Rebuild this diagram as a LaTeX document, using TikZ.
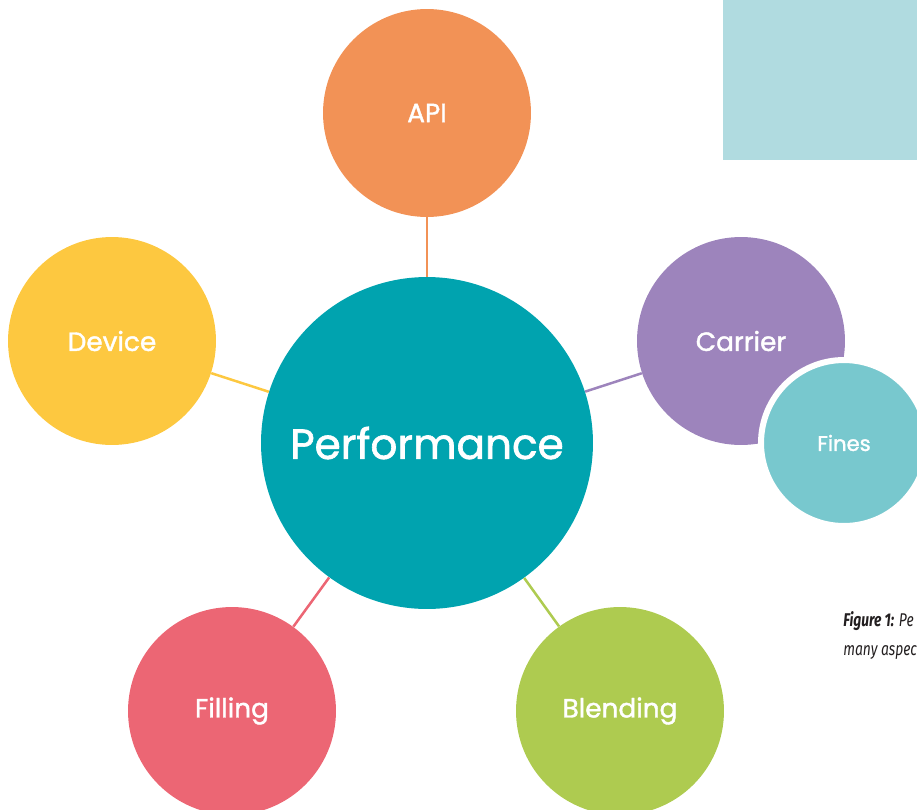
\documentclass[tikz,border=0pt]{standalone}
\usepackage{fontspec}
\setmainfont{Poppins}
\newfontfamily\labelfont{Poppins}[FakeBold=1.5]
\newfontfamily\capfont{Fira Sans}
\usepackage{tikz}
\usetikzlibrary{positioning}
\definecolor{perf}{RGB}{0,163,175}
\definecolor{apic}{RGB}{242,146,86}
\definecolor{devc}{RGB}{253,200,64}
\definecolor{carc}{RGB}{157,132,188}
\definecolor{finc}{RGB}{120,200,206}
\definecolor{filc}{RGB}{236,102,116}
\definecolor{blec}{RGB}{174,203,80}
\definecolor{boxc}{RGB}{176,219,224}
\definecolor{ink}{RGB}{35,31,32}
\tikzset{
  hub/.style={circle,fill=perf,text=white,minimum size=6.64cm,inner sep=0pt,font=\labelfont\fontsize{24}{28}\selectfont},
  bubble/.style={circle,text=white,minimum size=4.16cm,inner sep=0pt,font=\labelfont\fontsize{15}{18}\selectfont},
  smallbubble/.style={circle,fill=finc,draw=white,line width=1.2mm,text=white,minimum size=3.32cm,inner sep=0pt,font=\labelfont\fontsize{12}{14}\selectfont},
  spoke/.style={line width=0.5mm},
  caption/.style={anchor=base west,inner sep=0pt,text=ink,xscale=0.75,font=\capfont\fontsize{10.5}{12}\selectfont\itshape},
}
\begin{document}
\begin{tikzpicture}[x=0.02cm,y=-0.02cm]
\useasboundingbox (0,0) rectangle (917,809);
\clip (0,0) rectangle (917,809);
% corner panel
\fill[boxc] (723,0) rectangle (930,160);

% --- Hub ---
\node[hub] (perf) at (427,443) {Performance};

% --- Outer bubbles ---
\node[bubble,fill=apic] (api) at (427,113) {API};
\node[bubble,fill=devc] (device) at (112,341) {Device};
\node[bubble,fill=carc] (carrier) at (741,341) {Carrier};
\node[bubble,fill=filc] (filling) at (232,711) {Filling};
\node[bubble,fill=blec] (blending) at (620,711) {Blending};
\node[smallbubble] (fines) at (844,443) {Fines};

% spokes
\draw[spoke,draw=apic] (perf) -- (api);
\draw[spoke,draw=devc] (perf) -- (device);
\draw[spoke,draw=carc] (perf) -- (carrier);
\draw[spoke,draw=filc] (perf) -- (filling);
\draw[spoke,draw=blec] (perf) -- (blending);

% caption
\node[caption] (cap1) at (843,626) {\textbf{Figure 1:} Pe};
\node[caption] (cap2) at (843,655) {many aspec};
\end{tikzpicture}
\end{document}
